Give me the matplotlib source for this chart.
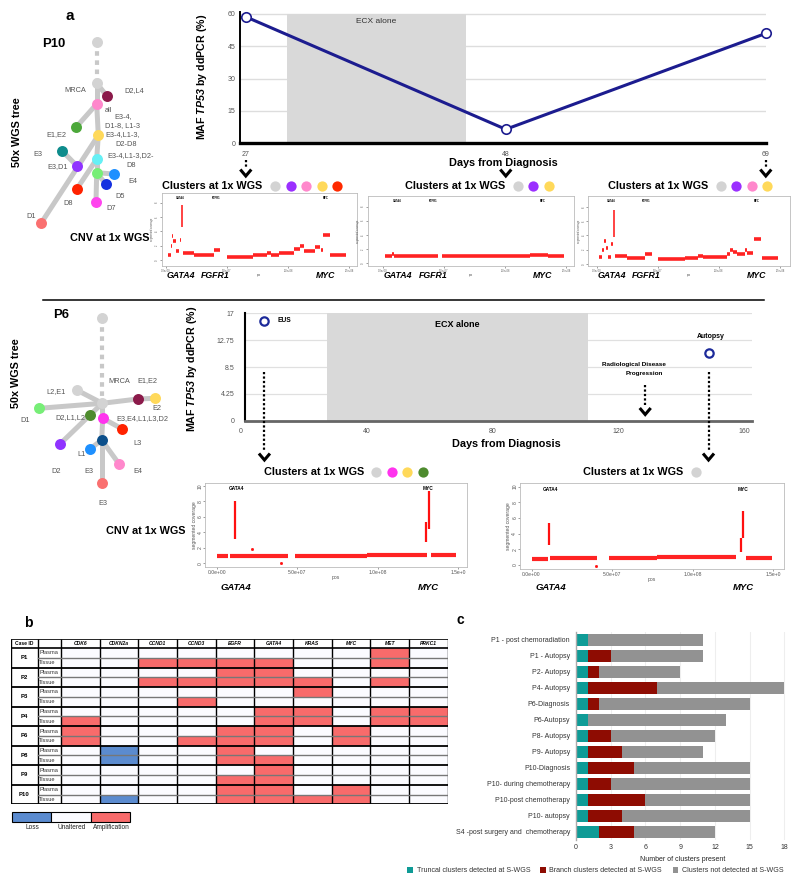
import matplotlib
matplotlib.use('Agg')
import matplotlib.pyplot as plt
from matplotlib.patches import Rectangle

plt.rcParams['font.family'] = ['Liberation Sans', 'DejaVu Sans']
plt.rcParams['mathtext.fontset'] = 'custom'
plt.rcParams['mathtext.rm'] = 'Liberation Sans'
plt.rcParams['mathtext.it'] = 'Liberation Sans:italic'
plt.rcParams['mathtext.bf'] = 'Liberation Sans:bold'
try:
    plt.rcParams['mathtext.bfit'] = 'Liberation Sans:italic:bold'
    YLAB = r'MAF $\mathbfit{TP53}$ by ddPCR (%)'
except KeyError:
    YLAB = r'MAF $\mathbf{TP53}$ by ddPCR (%)'

# ------------------------------------------------------------------ data
# panel a, P10 ddPCR
p10_days = [27, 48, 69]
p10_maf = [58.7, 6.5, 51.0]
p10_ecx = (30.3, 44.75)
p10_yticks = [0, 15, 30, 45, 60]
p10_clusters = [['#D3D3D3', '#9B30FF', '#FF88CC', '#FFD95A', '#FF2A00'],
                ['#D3D3D3', '#9B30FF', '#FFD95A'],
                ['#D3D3D3', '#9B30FF', '#FF88CC', '#FFD95A']]

# panel a, P6 ddPCR
p6_days = [7.6, 148.6]
p6_maf = [15.8, 10.7]
p6_point_labels = ['EUS', 'Autopsy']
p6_ecx = (27.4, 110.2)
p6_yticks = [0, 4.25, 8.5, 12.75, 17]
p6_yticklabels = ['0', '4.25', '8.5', '12.75', '17']
p6_xticks = [0, 40, 80, 120, 160]
p6_progression_day = 128.5
p6_clusters = [['#D3D3D3', '#FF33EE', '#FFD95A', '#4E8B2E'],
               ['#D3D3D3']]

# CNV (chr8) segments: (start Mb, end Mb, segmented coverage)
cnv_p10_d27 = [(1.9, 3.8, 0.7), (3.8, 5.3, 1.9), (5.3, 6.0, 3.4), (6.0, 8.2, 2.6),
               (8.2, 11.0, 1.2), (11.5, 12.4, 2.8), (14.2, 23.2, 1.0), (23.2, 39.3, 0.7),
               (39.3, 44.2, 1.4), (49.7, 71.6, 0.4), (71.6, 82.5, 0.7), (82.5, 85.8, 0.95),
               (85.8, 92.9, 0.7), (92.9, 104.4, 1.0), (104.4, 109.3, 1.6), (109.3, 113.1, 1.95),
               (113.1, 122.1, 1.3), (122.1, 126.2, 1.8), (126.7, 128.4, 1.4), (128.4, 134.4, 3.5),
               (134.4, 147.0, 0.7)]
spk_p10_d27 = [(13.3, 4.6, 7.7)]
cnv_p10_d48 = [(2.0, 7.0, 1.0), (7.0, 9.0, 1.3), (9.0, 45.0, 1.0), (48.0, 120.0, 1.0),
               (120.0, 135.0, 1.15), (135.0, 148.0, 1.0)]
spk_p10_d48 = []
cnv_p10_d69 = [(2.2, 4.1, 1.0), (4.1, 6.0, 2.0), (6.0, 7.6, 3.2), (7.6, 9.5, 2.3),
               (9.5, 11.4, 1.0), (11.4, 13.1, 2.8), (15.0, 24.5, 1.16), (24.5, 39.5, 0.88),
               (39.5, 45.0, 1.4), (49.9, 72.3, 0.7), (72.3, 83.2, 0.88), (83.2, 86.7, 1.12),
               (86.7, 106.4, 1.0), (106.4, 109.1, 1.4), (109.1, 111.8, 2.0), (111.8, 114.6, 1.72),
               (114.6, 121.4, 1.36), (121.4, 123.3, 2.0), (123.3, 127.6, 1.5), (129.0, 134.5, 3.44),
               (135.0, 148.0, 0.88)]
spk_p10_d69 = [(13.9, 3.8, 7.6)]
cnv_p6_diag = [(0.3, 7.2, 0.95), (8.3, 44.4, 0.92), (48.6, 93.1, 0.95), (93.1, 130.3, 1.05),
               (132.8, 148.5, 1.1)]
spk_p6_diag = [(11.4, 3.2, 8.0), (129.9, 2.7, 5.3), (131.6, 4.5, 9.3)]
cnv_p6_aut = [(0.3, 10.3, 0.8), (11.2, 40.8, 0.85), (48.2, 77.9, 0.85), (77.9, 127.2, 1.0),
              (133.4, 149.5, 0.9)]
spk_p6_aut = [(10.7, 2.6, 5.4), (129.8, 1.7, 3.5), (131.3, 3.5, 6.9)]
cnv_xticks = [0, 50, 100, 150]
cnv_p10_genes = ['GATA4', 'FGFR1', 'MYC']
cnv_p10_gene_mb = [12.0, 40.7, 131.0]
cnv_p6_genes = ['GATA4', 'MYC']
cnv_p6_gene_mb = [12.0, 131.3]

# panel b
b_genes = ['CDK6', 'CDKN2a', 'CCND1', 'CCND3', 'EGFR', 'GATA4', 'KRAS', 'MYC', 'MET', 'PRKC1']
b_cases = ['P1', 'P2', 'P3', 'P4', 'P6', 'P8', 'P9', 'P10']
b_samples = ['Plasma', 'Tissue']
b_status = [  # 1 amplification, -1 loss, 0 unaltered
    [0, 0, 0, 0, 0, 0, 0, 0, 1, 0],
    [0, 0, 1, 1, 1, 1, 0, 0, 1, 0],
    [0, 0, 0, 0, 1, 1, 0, 0, 0, 0],
    [0, 0, 1, 1, 1, 1, 1, 0, 1, 0],
    [0, 0, 0, 0, 0, 0, 1, 0, 0, 0],
    [0, 0, 0, 1, 0, 0, 0, 0, 0, 0],
    [0, 0, 0, 0, 0, 1, 1, 0, 1, 1],
    [1, 0, 0, 0, 0, 1, 1, 0, 1, 1],
    [1, 0, 0, 0, 1, 1, 0, 1, 0, 0],
    [1, 0, 0, 1, 1, 1, 0, 1, 0, 0],
    [0, -1, 0, 0, 1, 0, 0, 0, 0, 0],
    [0, -1, 0, 0, 1, 1, 0, 0, 0, 0],
    [0, 0, 0, 0, 0, 1, 0, 0, 0, 0],
    [0, 0, 0, 0, 1, 1, 0, 0, 0, 0],
    [0, 0, 0, 0, 1, 1, 0, 1, 0, 0],
    [0, -1, 0, 0, 1, 1, 1, 1, 0, 0],
]
b_legend = ['Loss', 'Unaltered', 'Amplification']

# panel c
c_labels = ['P1 - post chemoradiation', 'P1 - Autopsy', 'P2- Autopsy', 'P4- Autopsy',
            'P6-Diagnosis', 'P6-Autopsy', 'P8- Autopsy', 'P9- Autopsy', 'P10-Diagnosis',
            'P10- during chemotherapy', 'P10-post chemotherapy', 'P10- autopsy',
            'S4 -post surgery and  chemotherapy']
c_truncal = [1, 1, 1, 1, 1, 1, 1, 1, 1, 1, 1, 1, 2]
c_branch = [0, 2, 1, 6, 1, 0, 2, 3, 4, 2, 5, 3, 3]
c_notdet = [10, 8, 7, 11, 13, 12, 9, 7, 10, 12, 9, 11, 7]
c_series = ['Truncal clusters detected at S-WGS', 'Branch clusters detected at S-WGS',
            'Clusters not detected at S-WGS']
c_xticks = [0, 3, 6, 9, 12, 15, 18]

# tree layouts (schematic)
p10_nodes = {
    'top': (96.7, 41.7, '#D3D3D3'), 'mrca': (96.7, 83.3, '#D3D3D3'),
    'd2l4': (106.7, 95.7, '#8B1A4A'), 'all': (96.7, 104.0, '#FF88CC'),
    'e1e2': (76.0, 127.3, '#4CA83A'), 'yel': (98.3, 135.3, '#FFD95A'),
    'teal': (62.3, 151.0, '#0E8C8C'), 'cyan': (96.7, 159.0, '#66F0F5'),
    'purp': (76.7, 165.7, '#9033FF'), 'lgrn': (96.7, 172.7, '#77EE77'),
    'lblu': (114.0, 174.0, '#1E90FF'), 'dblu': (106.0, 184.3, '#1530E0'),
    'red': (77.0, 188.7, '#FF2200'), 'mag': (96.0, 201.7, '#FF44EE'),
    'sal': (41.0, 223.3, '#FA7070')}
p10_edges = [('mrca', 'd2l4'), ('mrca', 'all'), ('all', 'e1e2'), ('all', 'yel'),
             ('yel', 'cyan'), ('cyan', 'lgrn'), ('lgrn', 'mag'), ('yel', 'sal'),
             ('teal', 'purp'), ('cyan', 'red'), ('lgrn', 'lblu'), ('lgrn', 'dblu')]
p10_labels = [('MRCA', 86, 90, 'right'), ('D2,L4', 124.3, 90.7, 'left'), ('all', 105, 110.7, 'left'),
              ('E3-4,', 114.3, 116.7, 'left'), ('D1-8, L1-3', 105, 126, 'left'),
              ('E3-4,L1-3,', 105.7, 134.7, 'left'), ('D2-D8', 115, 144, 'left'),
              ('E3-4,L1-3,D2-', 107.7, 156, 'left'), ('D8', 126, 165.7, 'left'),
              ('E1,E2', 66, 134.3, 'right'), ('E3', 42.7, 155, 'right'), ('E3,D1', 68.3, 166.7, 'right'),
              ('E4', 128.3, 181.7, 'left'), ('D5', 115, 196, 'left'), ('D8', 72.7, 203.3, 'right'),
              ('D7', 106, 208.3, 'left'), ('D1', 35.7, 216, 'right')]
p6_nodes = {
    'top': (102.3, 318.3, '#D3D3D3'), 'mrca': (102.3, 403.3, '#D3D3D3'),
    'l2e1': (76.7, 390.0, '#D3D3D3'), 'd1': (39.3, 408.3, '#77EE77'),
    'olive': (90.0, 415.0, '#4E8B2E'), 'maroon': (137.7, 399.0, '#8B1A4A'),
    'yel': (155.0, 398.3, '#FFD95A'), 'mag': (102.7, 418.3, '#FF33EE'),
    'red': (122.3, 429.0, '#FF2200'), 'dblu': (101.7, 440.0, '#0B4F8A'),
    'lblu': (90.0, 449.0, '#1E90FF'), 'purp': (60.0, 444.0, '#9033FF'),
    'pink': (119.3, 464.3, '#FF88CC'), 'sal': (101.7, 483.3, '#FA7070')}
p6_edges = [('mrca', 'l2e1'), ('mrca', 'd1'), ('mrca', 'maroon'), ('maroon', 'yel'),
            ('mrca', 'olive'), ('olive', 'purp'), ('mrca', 'mag'), ('mag', 'red'),
            ('mag', 'dblu'), ('dblu', 'lblu'), ('dblu', 'pink'), ('dblu', 'sal')]
p6_labels = [('MRCA', 108.3, 381.7, 'left'), ('E1,E2', 137.3, 380.7, 'left'),
             ('L2,E1', 65.7, 391.7, 'right'), ('D1', 20, 420.7, 'left'),
             ('D2,L1,L2', 85, 417.3, 'right'), ('E2', 152.7, 408.3, 'left'),
             ('E3,E4,L1,L3,D2', 116.7, 418.3, 'left'), ('L3', 133.3, 443.3, 'left'),
             ('L1', 77.3, 454, 'left'), ('D2', 51.7, 471.7, 'left'), ('E3', 84.3, 471.7, 'left'),
             ('E4', 133.3, 471.7, 'left'), ('E3', 98.3, 503.3, 'left')]

# ------------------------------------------------------------------ figure
W, H = 800, 884
fig = plt.figure(figsize=(8, 8.84), dpi=100)
fig.patch.set_facecolor('white')


def add_ax(x0, y0, w, h):
    return fig.add_axes([x0 / W, 1 - (y0 + h) / H, w / W, h / H])


canvas = add_ax(0, 0, W, H)
canvas.set_xlim(0, W)
canvas.set_ylim(H, 0)
canvas.axis('off')
canvas.set_zorder(10)


def px_of(ax, xd):
    disp = ax.transData.transform((xd, 0))
    return canvas.transData.inverted().transform(disp)[0]


def arrow(x, y0, y1, ychev):
    if y1 > y0:
        canvas.plot([x, x], [y0, y1], color='black', lw=1.6, ls=(0, (1, 1)),
                    dash_capstyle='butt')
    canvas.plot([x - 5.5, x, x + 5.5], [ychev, ychev + 6.5, ychev], color='black', lw=2.2,
                solid_joinstyle='miter', solid_capstyle='butt')


def draw_tree(nodes, edges, labels):
    names = list(nodes.keys())
    a, b = nodes[names[0]], nodes[names[1]]
    canvas.plot([a[0], b[0]], [a[1], b[1]], color='#C8C8C8', lw=3.0, ls=(0, (1.1, 1.1)),
                dash_capstyle='butt', zorder=1)
    for u, v in edges:
        canvas.plot([nodes[u][0], nodes[v][0]], [nodes[u][1], nodes[v][1]],
                    color='#C8C8C8', lw=3.6, solid_capstyle='round', zorder=1)
    for x, y, c in nodes.values():
        canvas.plot(x, y, 'o', ms=7.9, mfc=c, mec='none', zorder=3)
    for t, x, y, ha in labels:
        canvas.text(x, y, t, fontsize=5.3, color='#555555', ha=ha, va='center')


def clusters(x_text, y, colors):
    canvas.text(x_text, y, 'Clusters at 1x WGS', fontsize=7.8, fontweight='bold',
                ha='left', va='center')
    x0 = x_text + 112.5
    for i, c in enumerate(colors):
        canvas.plot(x0 + i * 15.6, y, 'o', ms=7.4, mfc=c, mec='none')


def cnv_panel(rect, xlim, ylim, segs, spikes, yticks, xtl, genes, gene_mb, fs, lw, spw,
              gene_fs, y_below, below_fs, extra=None):
    ax = add_ax(*rect)
    ax.set_xlim(*xlim)
    ax.set_ylim(*ylim)
    for s, e, lv in segs:
        ax.plot([s, e], [lv, lv], color='#FF1010', lw=lw, solid_capstyle='butt', alpha=0.92)
    for x, lo, hi in spikes:
        ax.plot([x, x], [lo, hi], color='#FF1010', lw=spw, solid_capstyle='butt')
    if extra:
        ax.plot([p[0] for p in extra], [p[1] for p in extra], 's', ms=1.0, color='#FF1010')
    for sp in ax.spines.values():
        sp.set_color('#BBBBBB')
        sp.set_linewidth(0.6)
    ax.set_xticks(cnv_xticks)
    ax.set_xticklabels(xtl)
    ax.set_yticks(yticks)
    ax.set_yticklabels([str(v) for v in yticks], rotation=90, va='center')
    ax.tick_params(length=1.2, width=0.4, labelsize=fs, pad=0.6, colors='#555555')
    ax.set_xlabel('pos', fontsize=fs, labelpad=0.5, color='#555555')
    ax.set_ylabel('segmented coverage', fontsize=fs, labelpad=0.6, color='#555555')
    ytop = ylim[1] - 0.04 * (ylim[1] - ylim[0])
    for g, m in zip(genes, gene_mb):
        ax.text(m, ytop, g, fontsize=gene_fs, fontweight='bold', ha='center', va='top')
        canvas.text(px_of(ax, m), y_below, g, fontsize=below_fs, fontweight='bold',
                    fontstyle='italic', ha='center', va='center')
    return ax


# ------------------------------------------------------------------ panel a : P10
canvas.text(70, 16, 'a', fontsize=11, fontweight='bold', ha='center', va='center')
canvas.text(53.3, 44, 'P10', fontsize=9.4, fontweight='bold', ha='center', va='center')
canvas.text(17.5, 131.7, '50x WGS tree', fontsize=7.8, fontweight='bold', rotation=90,
            ha='center', va='center')
canvas.text(70, 238, 'CNV at 1x WGS', fontsize=7.8, fontweight='bold', ha='left', va='center')
draw_tree(p10_nodes, p10_edges, p10_labels)

ax1 = add_ax(239.6, 143.3 - 61 * 2.155, 526.2, 61 * 2.155)
ax1.set_xlim(26.5, 69.0)
ax1.set_ylim(0, 61)
ax1.hlines(p10_yticks[1:], 26.5, 69.0, color='#DDDDDD', lw=1.0, zorder=0.5)
ax1.axvspan(*p10_ecx, ymax=60 / 61, color='#D9D9D9', lw=0, zorder=1)
ax1.plot(p10_days, p10_maf, color='#1C1C8F', lw=2.2, zorder=3, clip_on=False)
ax1.plot(p10_days, p10_maf, 'o', ms=6.8, mfc='white', mec='#1C1C8F', mew=1.2, zorder=4,
         clip_on=False)
ax1.text(sum(p10_ecx) / 2, 56.5, 'ECX alone', fontsize=6, color='#333333', ha='center',
         va='center', zorder=2)
for s in ['top', 'right']:
    ax1.spines[s].set_visible(False)
ax1.spines['left'].set_linewidth(1.4)
ax1.spines['bottom'].set_linewidth(2.4)
ax1.set_yticks(p10_yticks)
ax1.set_xticks(p10_days)
ax1.tick_params(length=0, labelsize=5, colors='#555555')
ax1.tick_params(axis='x', pad=5.2)
ax1.tick_params(axis='y', pad=3.0)
ax1.set_facecolor('none')
canvas.text(202, 77, YLAB, fontsize=7.7, fontweight='bold', rotation=90, ha='center',
            va='center')
canvas.text(503, 163.3, 'Days from Diagnosis', fontsize=7.8, fontweight='bold', ha='center',
            va='center')
for d in p10_days:
    xp = px_of(ax1, d)
    if d == 48:
        arrow(xp, 0, 0, 169.5)
    else:
        arrow(xp, 159.5, 167, 169.5)

clusters(162.5, 186, p10_clusters[0])
clusters(405, 186, p10_clusters[1])
clusters(608, 186, p10_clusters[2])

p10_ticklab = ['0.0e+00', '5.0e+07', '1.0e+08', '1.5e+08']
cnv_panel((161.7, 193.3, 195.0, 72.7), (-3.5, 156.1), (-0.84, 9.32), cnv_p10_d27, spk_p10_d27,
          [0, 2, 4, 6, 8], p10_ticklab, cnv_p10_genes, cnv_p10_gene_mb, 1.8, 2.6, 1.1, 1.9,
          276, 6.3)
cnv_panel((367.5, 196.0, 206.5, 70.0), (-12.7, 156.3), (-0.38, 9.48), cnv_p10_d48, spk_p10_d48,
          [0, 2, 4, 6, 8], p10_ticklab, cnv_p10_genes, cnv_p10_gene_mb, 1.8, 2.6, 1.1, 1.9,
          276, 6.3)
cnv_panel((588.3, 196.0, 201.7, 70.0), (-6.9, 158.2), (-0.28, 9.52), cnv_p10_d69, spk_p10_d69,
          [0, 2, 4, 6, 8], p10_ticklab, cnv_p10_genes, cnv_p10_gene_mb, 1.8, 2.6, 1.1, 1.9,
          276, 6.3)

canvas.plot([43, 764], [299.5, 299.5], color='black', lw=1.1)

# ------------------------------------------------------------------ panel a : P6
canvas.text(60.8, 315, 'P6', fontsize=9.4, fontweight='bold', ha='center', va='center')
canvas.text(16, 373.3, '50x WGS tree', fontsize=7.8, fontweight='bold', rotation=90,
            ha='center', va='center')
canvas.text(186, 531.5, 'CNV at 1x WGS', fontsize=7.8, fontweight='bold', ha='right',
            va='center')
draw_tree(p6_nodes, p6_edges, p6_labels)

ax2 = add_ax(240.5, 313.3, 511.8, 107.4)
ax2.set_xlim(0, 162.5)
ax2.set_ylim(0, 17)
ax2.hlines(p6_yticks[1:], 1.37, 162.5, color='#E0E0E0', lw=0.9, zorder=0.5)
ax2.axvspan(*p6_ecx, color='#D9D9D9', lw=0, zorder=1)
ax2.plot(p6_days, p6_maf, 'o', ms=6.0, mfc='white', mec='#1C2A9A', mew=1.6, zorder=4,
         clip_on=False)
ax2.text(p6_days[0] + 4, p6_maf[0], p6_point_labels[0], fontsize=4.8, fontweight='bold',
         ha='left', va='center')
ax2.text(p6_days[1] + 0.6, p6_maf[1] + 2.6, p6_point_labels[1], fontsize=5.0,
         fontweight='bold', ha='center', va='center')
ax2.text(sum(p6_ecx) / 2, 15.3, 'ECX alone', fontsize=6.5, fontweight='bold', ha='center',
         va='center', zorder=2)
ax2.text(p6_progression_day - 3.5, 8.9, 'Radiological Disease', fontsize=4.6,
         fontweight='bold', ha='center', va='center')
ax2.text(p6_progression_day - 0.3, 7.5, 'Progression', fontsize=4.6, fontweight='bold',
         ha='center', va='center')
for s in ['top', 'right']:
    ax2.spines[s].set_visible(False)
ax2.spines['left'].set_position(('data', 1.37))
ax2.spines['left'].set_linewidth(1.5)
ax2.spines['bottom'].set_color('#666666')
ax2.spines['bottom'].set_linewidth(2.0)
ax2.spines['bottom'].set_bounds(1.37, 162.5)
ax2.set_xticks(p6_xticks)
ax2.set_yticks(p6_yticks)
ax2.set_yticklabels(p6_yticklabels)
ax2.tick_params(length=0, labelsize=5, colors='#555555')
ax2.tick_params(axis='x', pad=5.0)
ax2.tick_params(axis='y', pad=7.5)
ax2.set_facecolor('none')
canvas.text(192, 369, YLAB, fontsize=7.7, fontweight='bold', rotation=90, ha='center',
            va='center')
canvas.text(506, 444.3, 'Days from Diagnosis', fontsize=7.8, fontweight='bold', ha='center',
            va='center')
arrow(px_of(ax2, p6_days[0]), 372, 450, 453.5)
arrow(px_of(ax2, p6_days[1]), 372, 450, 453.5)
arrow(px_of(ax2, p6_progression_day), 385, 405, 408)

clusters(263.5, 471.7, p6_clusters[0])
clusters(583.4, 471.7, p6_clusters[1])

p6_ticklab = ['0.0e+00', '5.0e+07', '1.0e+08', '1.5e+0']
cnv_panel((205.0, 482.7, 262.3, 84.6), (-7.3, 155.6), (-0.52, 10.43), cnv_p6_diag, spk_p6_diag,
          [0, 2, 4, 6, 8, 10], p6_ticklab, cnv_p6_genes, cnv_p6_gene_mb, 3.6, 3.0, 1.6, 3.4,
          587.3, 6.8, extra=[(22, 1.9), (40, 0.05)])
cnv_panel((519.8, 483.3, 264.3, 85.7), (-7.3, 156.8), (-0.52, 10.43), cnv_p6_aut, spk_p6_aut,
          [0, 2, 4, 6, 8, 10], p6_ticklab, cnv_p6_genes, cnv_p6_gene_mb, 3.6, 3.0, 1.6, 3.4,
          587.3, 6.8, extra=[(40, -0.1)])

# ------------------------------------------------------------------ panel b
canvas.text(28, 623, 'b', fontsize=10, fontweight='bold', ha='center', va='center')
tab = add_ax(11, 639, 436.7, 165.3)
tab.set_xlim(-1.29, 10)
tab.set_ylim(16, -0.92)
tab.axis('off')
fill = {1: '#F86B6B', -1: '#5B8BCF', 0: '#FBFBFF'}
for r, row in enumerate(b_status):
    for c, v in enumerate(row):
        tab.add_patch(Rectangle((c, r), 1, 1, fc=fill[v], ec='none'))
for xv in [-1.29, -0.6] + list(range(11)):
    tab.plot([xv, xv], [-0.92, 16], color='black', lw=1.0, solid_capstyle='butt')
tab.plot([-1.29, 10], [-0.92, -0.92], color='black', lw=1.2)
tab.plot([-1.29, 10], [0, 0], color='black', lw=1.2)
for k in range(len(b_cases)):
    tab.plot([-0.6, 10], [2 * k + 1, 2 * k + 1], color='#777777', lw=1.0)
    tab.plot([-1.29, 10], [2 * k + 2, 2 * k + 2], color='black', lw=1.3)
tab.text(-0.945, -0.46, 'Case ID', fontsize=3.6, fontweight='bold', ha='center', va='center')
for c, g in enumerate(b_genes):
    tab.text(c + 0.5, -0.46, g, fontsize=3.6, fontweight='bold', fontstyle='italic',
             ha='center', va='center')
for k, case in enumerate(b_cases):
    tab.text(-0.945, 2 * k + 1, case, fontsize=4.3, fontweight='bold', ha='center',
             va='center')
    for j, smp in enumerate(b_samples):
        tab.text(-0.56, 2 * k + j + 0.5, smp, fontsize=4.1, color='#333333', ha='left',
                 va='center')
leg_fill = [fill[-1], fill[0], fill[1]]
for i, (lab, fc) in enumerate(zip(b_legend, leg_fill)):
    x0 = 11.7 + i * 39.7
    canvas.add_patch(Rectangle((x0, 811.7), 39.2, 10.6, fc=fc, ec='black', lw=0.8))
    canvas.text(x0 + 20 + (0 if i else 1), 827.8 if i else 827.3, lab, fontsize=4.7,
                color='#222222', ha='center', va='center')

# ------------------------------------------------------------------ panel c
canvas.text(460, 620, 'c', fontsize=10, fontweight='bold', ha='center', va='center')
bar = add_ax(576, 632, 213, 208)
cols = ['#0F9B96', '#8E0C02', '#929292']
ypos = list(range(len(c_labels)))
left = [0] * len(c_labels)
for vals, col in zip([c_truncal, c_branch, c_notdet], cols):
    bar.barh(ypos, vals, left=left, height=0.69, color=col, lw=0, zorder=2)
    left = [a + b for a, b in zip(left, vals)]
bar.set_ylim(len(c_labels) - 0.5, -0.5)
bar.set_xlim(0, 18.4)
bar.set_yticks(ypos)
bar.set_yticklabels(c_labels)
bar.set_xticks(c_xticks)
bar.tick_params(length=0, labelsize=5, colors='#333333')
bar.tick_params(axis='y', pad=4.3)
bar.tick_params(axis='x', pad=3.0)
for xv in c_xticks[1:]:
    bar.axvline(xv, color='#EEEEEE', lw=0.8, zorder=0)
for s in ['top', 'right', 'bottom']:
    bar.spines[s].set_visible(False)
bar.spines['left'].set_color('#AAAAAA')
bar.spines['left'].set_linewidth(1.0)
bar.set_xlabel('Number of clusters present', fontsize=5, color='#222222', labelpad=3.5)
leg_x = [407.3, 540.0, 672.7]
for x0, lab, col in zip(leg_x, c_series, cols):
    canvas.add_patch(Rectangle((x0, 867.2), 5.5, 5.5, fc=col, ec='none'))
    canvas.text(x0 + 9.4, 870, lab, fontsize=5.1, color='#333333', ha='left', va='center')

fig.savefig('out.png', dpi=100)
